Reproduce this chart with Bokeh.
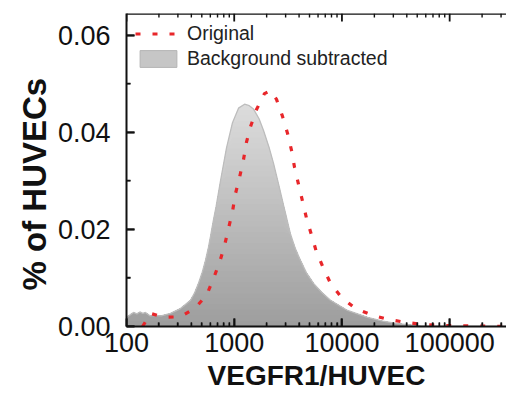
import numpy as np
from bokeh.plotting import figure
from bokeh.models import (FixedTicker, NumeralTickFormatter, PrintfTickFormatter,
                          Legend, LegendItem, Title, Span)
from bokeh.embed import file_html
from bokeh.resources import INLINE

# VEGFR1 per HUVEC distribution (fraction of cells)
bg_x = [100, 108, 116, 125, 133, 142, 150, 165, 178, 210, 256, 317, 393, 430, 466, 505,
        541, 575, 602, 640, 680, 746, 848, 964, 1096, 1247, 1380, 1511, 1700, 1871, 2100,
        2317, 2600, 2869, 3334, 3700, 4128, 4700, 5450, 6500, 7834, 11270, 17290, 24000,
        32830, 53700, 100000, 337000]
bg_y = [0.0019, 0.0024, 0.0029, 0.0026, 0.0030, 0.0027, 0.0029, 0.0022, 0.0023, 0.0022,
        0.0027, 0.0037, 0.0054, 0.0070, 0.0089, 0.0112, 0.0136, 0.0162, 0.0185, 0.0218,
        0.0248, 0.0300, 0.0368, 0.0420, 0.0450, 0.0458, 0.0455, 0.0448, 0.0428, 0.0404,
        0.0370, 0.0336, 0.0290, 0.0250, 0.0190, 0.0160, 0.0136, 0.0110, 0.0089, 0.0070,
        0.0054, 0.0033, 0.0019, 0.0011, 0.0006, 0.0001, 0.0, 0.0]

orig_x = [141, 167, 221, 317, 428, 553, 642, 731, 813, 885, 964, 1028, 1120, 1220, 1300,
          1417, 1610, 1911, 2173, 2470, 2808, 3125, 3404, 3630, 3954, 4306, 4690, 5223,
          5808, 6745, 7834, 9910, 13370, 19230, 27670, 40640, 57300, 85900, 193600, 337000]
orig_y = [0.0, 0.0027, 0.0019, 0.0020, 0.0037, 0.0064, 0.0099, 0.0132, 0.0167, 0.0202,
          0.0237, 0.0274, 0.0307, 0.0344, 0.0380, 0.0412, 0.0447, 0.0480, 0.0486, 0.0468,
          0.0433, 0.0398, 0.0363, 0.0328, 0.0293, 0.0258, 0.0223, 0.0188, 0.0153, 0.0120,
          0.0089, 0.0060, 0.0037, 0.0023, 0.0014, 0.0008, 0.0004, 0.0002, 0.0001, 0.0]

x_major = [100, 1000, 10000, 100000]
x_minor = [m * d for d in (100, 1000, 10000, 100000) for m in range(2, 10)]
y_major = [0.0, 0.02, 0.04, 0.06]
y_minor = [0.01, 0.03, 0.05]

X_LO, X_HI = 100, 337000
Y_LO, Y_HI = 0.0, 0.0645

W, H = 506, 394
B_LEFT, B_TOP, B_BOTTOM = 126, 13, 68
FRAME_W = W - B_LEFT
FRAME_H = H - B_TOP - B_BOTTOM

FONT = "Liberation Sans"
INK = "#111111"

p = figure(width=W, height=H, x_axis_type="log", x_range=(X_LO, X_HI),
           y_range=(Y_LO, Y_HI), output_backend="svg", toolbar_location=None,
           min_border_left=B_LEFT, min_border_right=0, min_border_top=B_TOP,
           min_border_bottom=B_BOTTOM)
p.outline_line_alpha = 0
p.xgrid.grid_line_alpha = 0
p.ygrid.grid_line_alpha = 0

# vertical grey gradient under the background-subtracted curve
bx = np.array(bg_x, dtype=float)
by = np.array(bg_y, dtype=float)
n_bands = 40
levels = np.linspace(0, by.max(), n_bands + 1)
c_top = np.array([0xdd, 0xdd, 0xdd])
c_bot = np.array([0x9e, 0x9e, 0x9e])
for k in range(n_bands - 1, -1, -1):
    t = (k + 0.5) / n_bands
    c = (c_bot + (c_top - c_bot) * t).astype(int)
    col = "#%02x%02x%02x" % tuple(c)
    p.varea(x=bx, y1=np.zeros_like(by), y2=np.minimum(by, levels[k + 1]), fill_color=col)
p.line(bx, by, line_color="#bdbdbd", line_width=1.3)

red = p.line(orig_x, orig_y, line_color="#e8262a", line_width=3.2,
             line_dash="5 12", line_cap="butt")

# legend swatch for the filled curve (kept outside the visible range)
swatch = p.quad(left=[1], right=[2], top=[-1], bottom=[-2], fill_color="#c6c6c6",
                line_color="#b4b4b4", line_width=1)

legend = Legend(items=[LegendItem(label="Original", renderers=[red]),
                       LegendItem(label="Background subtracted", renderers=[swatch])],
                location="top_left", border_line_color=None, background_fill_alpha=0,
                padding=0, margin=9, spacing=2, glyph_width=46, glyph_height=21,
                label_height=21, label_standoff=6,
                label_text_font=FONT, label_text_font_size="19.5px",
                label_text_color="#222222")
p.add_layout(legend)

# top edge of the frame
p.add_layout(Span(location=Y_HI, dimension="width", line_color=INK, line_width=2.5))

# inward-pointing ticks on the left, bottom and top edges, as short segments
dy_per_px = (Y_HI - Y_LO) / FRAME_H
dlog_per_px = np.log10(X_HI / X_LO) / FRAME_W

def vticks(xs, y0, npx, width):
    y1 = y0 + npx * dy_per_px
    p.segment(x0=xs, y0=[y0] * len(xs), x1=xs, y1=[y1] * len(xs),
              line_color=INK, line_width=width)

def hticks(ys, npx, width):
    x1 = X_LO * 10 ** (npx * dlog_per_px)
    p.segment(x0=[X_LO] * len(ys), y0=ys, x1=[x1] * len(ys), y1=ys,
              line_color=INK, line_width=width)

vticks(x_major, Y_LO, 8, 1.8)
vticks(x_minor, Y_LO, 4, 1.4)
vticks(x_major, Y_HI, -8, 1.8)
vticks(x_minor, Y_HI, -4, 1.4)
hticks(y_major, 8, 1.8)
hticks(y_minor, 4, 1.4)

def style_axis(ax):
    ax.axis_line_color = INK
    ax.axis_line_width = 2
    ax.major_tick_line_color = INK
    ax.minor_tick_line_color = INK
    ax.major_tick_line_width = 1.8
    ax.minor_tick_line_width = 1.4
    ax.major_tick_in = 8
    ax.major_tick_out = 0
    ax.minor_tick_in = 4
    ax.minor_tick_out = 0
    ax.major_label_text_font = FONT
    ax.major_label_text_font_size = "27px"
    ax.major_label_text_color = INK
    ax.axis_label_text_font = FONT
    ax.axis_label_text_font_style = "bold"
    ax.axis_label_text_color = INK

xa = p.xaxis[0]
style_axis(xa)
xa.ticker = FixedTicker(ticks=x_major, minor_ticks=x_minor)
xa.formatter = NumeralTickFormatter(format="0")
xa.axis_label = "VEGFR1/HUVEC"
xa.axis_label_text_font_size = "28px"
xa.major_label_standoff = 6
xa.axis_label_standoff = 5

ya = p.yaxis[0]
style_axis(ya)
ya.ticker = FixedTicker(ticks=y_major, minor_ticks=y_minor)
ya.formatter = PrintfTickFormatter(format="%.2f")
ya.major_label_standoff = 16

p.add_layout(Title(text="% of HUVECs", align="left", offset=36, text_font=FONT,
                   text_font_size="33px", text_font_style="bold", text_color=INK,
                   standoff=4), "left")

open("out.html", "w").write(file_html(p, INLINE))
